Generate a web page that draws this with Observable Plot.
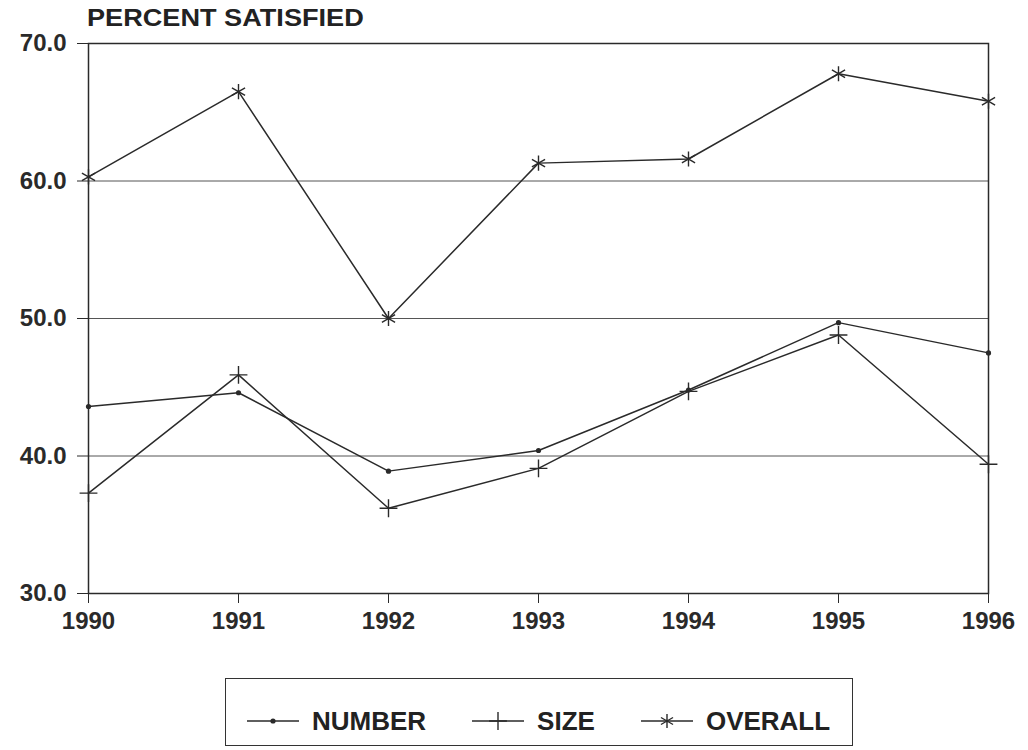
<!DOCTYPE html>
<html>
<head>
<meta charset="utf-8">
<script src="https://cdn.jsdelivr.net/npm/d3@7"></script>
<script src="https://cdn.jsdelivr.net/npm/@observablehq/plot@0.6"></script>
<style>
  html, body { margin: 0; padding: 0; background: #fff; }
  body { width: 1028px; height: 750px; overflow: hidden; font-family: "Liberation Sans", Arial, sans-serif; color: #222; }
  #title { position: relative; height: 24px; z-index: 2; }
  #title span { position: absolute; left: 87px; top: 6px; font-size: 24px; font-weight: bold; line-height: 1; white-space: nowrap; transform: scaleX(1.13); transform-origin: left top; }
  #chart { position: relative; z-index: 1; }
  #chart svg text { font-weight: bold; }
  #legendWrap { position: relative; height: 96px; }
  #legend { position: absolute; left: 225px; top: 24px; width: 628px; height: 68px; border: 1.5px solid #333; box-sizing: border-box; display: flex; align-items: center; padding: 18px 0 0 21px; }
  .item { display: flex; align-items: center; margin-right: 46px; }
  .item svg { display: block; margin-right: 13px; }
  .item span { font-size: 26px; line-height: 28px; font-weight: bold; }
</style>
</head>
<body>
<div id="title"><span>PERCENT SATISFIED</span></div>
<div id="chart"></div>
<div id="legendWrap"><div id="legend"></div></div>
<script>
// ---- data ----
const years = [1990, 1991, 1992, 1993, 1994, 1995, 1996];
const numberValues  = [43.6, 44.6, 38.9, 40.4, 44.8, 49.7, 47.5];
const sizeValues    = [37.3, 45.9, 36.2, 39.1, 44.7, 48.8, 39.4];
const overallValues = [60.3, 66.5, 50.0, 61.3, 61.6, 67.8, 65.8];
const seriesNames = ["NUMBER", "SIZE", "OVERALL"];
const yTicks = [30, 40, 50, 60, 70];
const gridValues = [40, 50, 60];

const toRows = (vals, name) => years.map((yr, i) => ({year: yr, value: vals[i], series: name}));
const numberRows = toRows(numberValues, seriesNames[0]);
const sizeRows = toRows(sizeValues, seriesNames[1]);
const overallRows = toRows(overallValues, seriesNames[2]);

const ink = "#2a2a2a";

const chart = Plot.plot({
  width: 1028,
  height: 630,
  marginTop: 19,
  marginBottom: 61,
  marginLeft: 88,
  marginRight: 40,
  style: {fontFamily: "'Liberation Sans', Arial, sans-serif", fontSize: "24px", color: ink, background: "transparent", overflow: "visible"},
  x: {domain: [1990, 1996]},
  y: {domain: [30, 70]},
  marks: [
    Plot.gridY(gridValues, {stroke: "#555", strokeOpacity: 1, strokeWidth: 1}),
    Plot.frame({stroke: ink, strokeWidth: 1.5}),
    Plot.axisY({ticks: yTicks, tickFormat: d3.format(".1f"), tickSize: 11, tickPadding: 11, fontSize: 24, label: null}),
    Plot.axisX({ticks: years, tickFormat: "d", tickSize: 10, tickPadding: 8, fontSize: 24, label: null}),
    Plot.line(overallRows, {x: "year", y: "value", stroke: ink, strokeWidth: 1.5}),
    Plot.line(numberRows, {x: "year", y: "value", stroke: ink, strokeWidth: 1.5}),
    Plot.line(sizeRows, {x: "year", y: "value", stroke: ink, strokeWidth: 1.5}),
    Plot.dot(overallRows, {x: "year", y: "value", symbol: "asterisk", r: 7.2, stroke: ink, strokeWidth: 1.4}),
    Plot.dot(sizeRows, {x: "year", y: "value", symbol: "plus", r: 5.8, stroke: ink, strokeWidth: 1.4}),
    Plot.dot(numberRows, {x: "year", y: "value", symbol: "circle", r: 2.6, fill: ink, stroke: "none"})
  ]
});
document.getElementById("chart").appendChild(chart);

// ---- legend ----
const legend = d3.select("#legend");
const legendSymbols = {
  NUMBER: {type: d3.symbolCircle, size: Math.PI * 2.6 * 2.6, fill: true},
  SIZE: {type: d3.symbolPlus, size: Math.PI * 5.8 * 5.8, fill: false},
  OVERALL: {type: d3.symbolAsterisk, size: Math.PI * 6.6 * 6.6, fill: false}
};
seriesNames.forEach(name => {
  const item = legend.append("div").attr("class", "item");
  const s = item.append("svg").attr("width", 52).attr("height", 22);
  s.append("line").attr("x1", 0).attr("x2", 52).attr("y1", 11).attr("y2", 11)
    .attr("stroke", ink).attr("stroke-width", 1.5);
  const sym = legendSymbols[name];
  s.append("path")
    .attr("transform", "translate(26,11)")
    .attr("d", d3.symbol(sym.type, sym.size)())
    .attr("fill", sym.fill ? ink : "none")
    .attr("stroke", sym.fill ? "none" : ink)
    .attr("stroke-width", 1.4);
  item.append("span").text(name);
});
</script>
</body>
</html>
